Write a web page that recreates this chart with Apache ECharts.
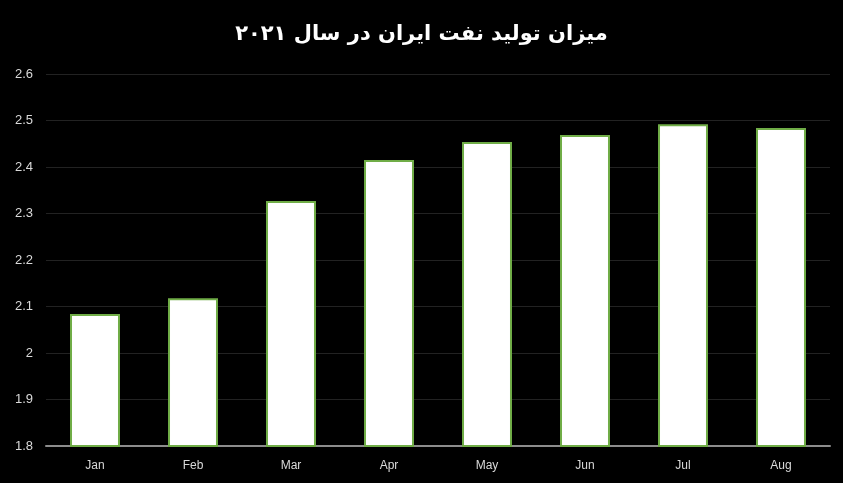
<!DOCTYPE html>
<html><head><meta charset="utf-8">
<script src="https://cdn.jsdelivr.net/npm/echarts@6/dist/echarts.min.js"></script>
<style>html,body{margin:0;padding:0;background:#000;}#c{width:843px;height:483px;}</style>
</head><body><div id="c"></div>
<script>
const titleText = 'میزان تولید نفت ایران در سال ۲۰۲۱';
const categories = ['Jan','Feb','Mar','Apr','May','Jun','Jul','Aug'];
const values = [2.084, 2.118, 2.327, 2.415, 2.454, 2.469, 2.492, 2.484];
const yMin = 1.8, yMax = 2.6, yStep = 0.1;

const chart = echarts.init(document.getElementById('c'));
chart.setOption({
  backgroundColor: '#000',
  animation: false,
  title: {
    text: titleText, left: 'center', top: 19,
    textStyle: {color: '#fff', fontSize: 21, fontWeight: 'bold', fontFamily: 'DejaVu Sans'}
  },
  grid: {left: 46, right: 13, top: 74, bottom: 37},
  xAxis: {
    type: 'category', data: categories,
    axisLine: {lineStyle: {color: '#8c8c8c', width: 2}},
    axisTick: {show: false},
    axisLabel: {color: '#d9d9d9', fontSize: 12, margin: 14, fontFamily: 'Liberation Sans'}
  },
  yAxis: {
    type: 'value', min: yMin, max: yMax, interval: yStep,
    axisLine: {show: false}, axisTick: {show: false},
    axisLabel: {color: '#d9d9d9', fontSize: 13, margin: 13, fontFamily: 'Liberation Sans',
      formatter: v => String(Math.round(v*10)/10)},
    splitLine: {lineStyle: {color: '#222', width: 1}}
  },
  series: [{
    type: 'bar', data: values, barWidth: '51%',
    itemStyle: {color: '#fff', borderColor: '#70ad47', borderWidth: 2}
  }]
});
</script></body></html>
